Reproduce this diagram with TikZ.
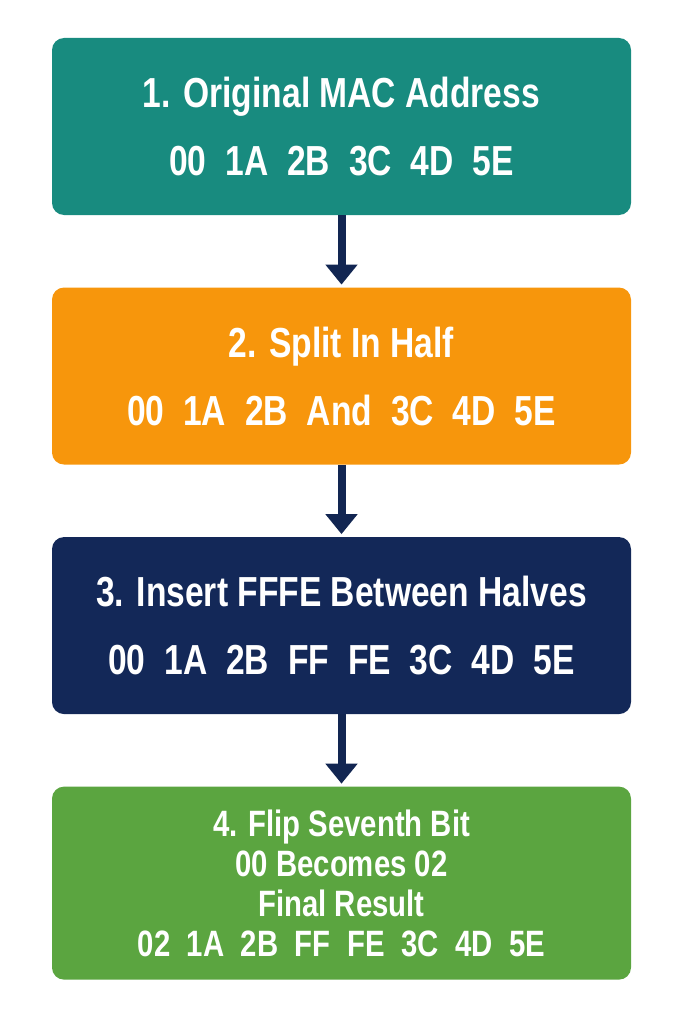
\documentclass[tikz,border=0pt]{standalone}
\usepackage{fontspec}
\setmainfont{Liberation Sans}[FakeStretch=0.8]
\usetikzlibrary{positioning,arrows.meta}
\definecolor{tealbox}{RGB}{24,139,127}
\definecolor{orangebox}{RGB}{247,150,12}
\definecolor{navybox}{RGB}{19,40,88}
\definecolor{greenbox}{RGB}{91,165,64}
\definecolor{navyarrow}{RGB}{18,38,82}
\newcommand{\hexrow}[1]{{\spaceskip=0.45em\relax #1}}
\begin{document}
\begin{tikzpicture}[x=0.75pt,y=0.75pt,yscale=-1,xscale=1,
  stepbox/.style={rectangle, rounded corners=9pt, minimum width=434.25pt, inner sep=0pt, text=white, align=center},
  bigtext/.style={font=\fontsize{31.5}{51}\selectfont\bfseries},
  smalltext/.style={font=\fontsize{27.5}{30}\selectfont\bfseries},
  flow/.style={draw=navyarrow, line width=6pt, -{Triangle[width=23.25pt,length=15pt]}, shorten >=2pt}]
\useasboundingbox (0,0) rectangle (683,1024);
% Step 1
\node [stepbox, bigtext, fill=tealbox, minimum height=132.75pt] (orig) at (341.5,126.5) {1. Original MAC Address\\\hexrow{00 1A 2B 3C 4D 5E}};
% Step 2
\node [stepbox, bigtext, fill=orangebox, minimum height=132.75pt, below=54pt of orig] (split) {2. Split In Half\\\hexrow{00 1A 2B And 3C 4D 5E}};
% Step 3
\node [stepbox, bigtext, fill=navybox, minimum height=132.75pt, below=54pt of split] (insert) {3. Insert FFFE Between Halves\\\hexrow{00 1A 2B FF FE 3C 4D 5E}};
% Step 4
\node [stepbox, smalltext, fill=greenbox, minimum height=144.75pt, below=54pt of insert] (flip) {4. Flip Seventh Bit\\00 Becomes 02\\Final Result\\\hexrow{02 1A 2B FF FE 3C 4D 5E}};
% Arrows
\draw [flow] (orig.south) -- (split.north);
\draw [flow] (split.south) -- (insert.north);
\draw [flow] (insert.south) -- (flip.north);
\end{tikzpicture}
\end{document}
